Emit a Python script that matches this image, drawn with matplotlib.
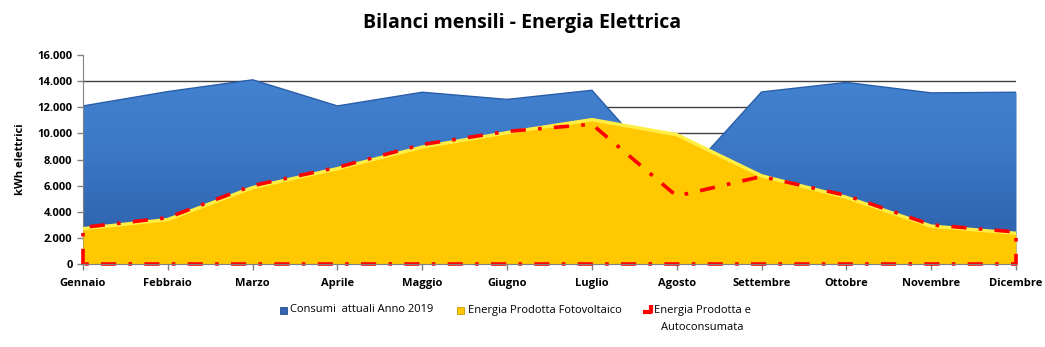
import matplotlib
matplotlib.use("Agg")
import matplotlib.pyplot as plt
from matplotlib.patches import Rectangle
from matplotlib.lines import Line2D
from matplotlib.colors import LinearSegmentedColormap
from matplotlib.ticker import FuncFormatter, MultipleLocator
import numpy as np

months = ["Gennaio", "Febbraio", "Marzo", "Aprile", "Maggio", "Giugno", "Luglio",
          "Agosto", "Settembre", "Ottobre", "Novembre", "Dicembre"]
consumi = [12100, 13200, 14100, 12100, 13150, 12600, 13300, 6000, 13170, 13900, 13100, 13150]
fotovoltaico = [2700, 3400, 5850, 7300, 8950, 10050, 11050, 9900, 6750, 5100, 2900, 2350]
autoconsumata = [2800, 3550, 6000, 7400, 9150, 10150, 10700, 5200, 6700, 5250, 3000, 2450]

plt.rcParams['font.family'] = ['Open Sans', 'DejaVu Sans']

fig = plt.figure(figsize=(10.45, 3.47), dpi=100)
ax = fig.add_axes([83/1045, 1-264/347, (1016-83)/1045, (264-55)/347])

x = np.arange(len(months))

# blue area with vertical gradient
blue = ax.fill_between(x, consumi, 0, color="#3874C3", zorder=2, linewidth=0)
cmap_b = LinearSegmentedColormap.from_list("b", ["#2B5CA6", "#3A76C4", "#4686D4"])
grad = np.linspace(0, 1, 256).reshape(-1, 1)
im = ax.imshow(grad, cmap=cmap_b, aspect="auto", origin="lower",
               extent=[0, 11, 0, 16000], zorder=2.05)
im.set_clip_path(blue.get_paths()[0], transform=ax.transData)
ax.plot(x, consumi, color="#2A5DA8", lw=1.0, zorder=2.1)

ax.fill_between(x, fotovoltaico, 0, color="#FFC800", zorder=3, linewidth=0)
ax.plot(x, fotovoltaico, color="#FFEE44", lw=2.5, zorder=3.1)

# autoconsumata: area outline with no fill, dash-dot red border
ox = np.concatenate([[x[0]], x, [x[-1]]])
oy = np.concatenate([[0], autoconsumata, [0]])
ax.plot(np.append(ox, x[0]), np.append(oy, 0), color="#FF0000", lw=2.6,
        dashes=(4.2, 3.4, 1, 3.4), zorder=4, clip_on=False)

ax.set_xlim(0, 11)
ax.set_ylim(0, 16000)
ax.yaxis.set_major_locator(MultipleLocator(2000))
ax.yaxis.set_major_formatter(FuncFormatter(lambda v, p: f"{int(v):,}".replace(",", ".")))
ax.set_xticks(x)
ax.set_xticklabels(months, fontweight="bold", fontsize=8)
for lab in ax.get_yticklabels():
    lab.set_fontweight("bold")
    lab.set_fontsize(8)

for v in range(2000, 16000, 2000):
    ax.axhline(v, color="#404040", lw=1.0, zorder=1)

for s in ["top", "right"]:
    ax.spines[s].set_visible(False)
ax.spines["left"].set_color("#808080")
ax.spines["bottom"].set_color("#808080")
ax.spines["bottom"].set_zorder(5)
ax.tick_params(axis="both", colors="#808080", labelcolor="black", length=4, width=1)
ax.tick_params(axis="x", pad=6)

ax.set_ylabel("kWh elettrici", fontweight="bold", fontsize=8, labelpad=8)

fig.text(0.5, 0.935, "Bilanci mensili - Energia Elettrica", ha="center", va="center",
         fontsize=14, fontweight="bold")

# legend (manual placement to keep first lines aligned)
W, H = 1045, 347
def px(xp, yp):
    return xp / W, 1 - yp / H

ty = 310
fig.patches.append(Rectangle(px(280, 314), 7 / W, 7 / H, transform=fig.transFigure,
                             facecolor="#3264B0", edgecolor="#24508F", lw=0.6))
fig.text(*px(290, ty), "Consumi  attuali Anno 2019", fontsize=8, va="center", ha="left")
fig.patches.append(Rectangle(px(457, 314), 7 / W, 7 / H, transform=fig.transFigure,
                             facecolor="#FFC800", edgecolor="#C89600", lw=0.6))
fig.text(*px(468, ty), "Energia Prodotta Fotovoltaico", fontsize=8, va="center", ha="left")
fig.lines.append(Line2D([643 / W, 651 / W, 651 / W], [1 - 312 / H, 1 - 312 / H, 1 - 305 / H],
                        transform=fig.transFigure, color="#FF0000", lw=3.0,
                        solid_capstyle="butt"))
fig.text(*px(702, ty), "Energia Prodotta e", fontsize=8, va="center", ha="center")
fig.text(*px(702, ty + 17), "Autoconsumata", fontsize=8, va="center", ha="center")

fig.savefig("out.png", dpi=100)
